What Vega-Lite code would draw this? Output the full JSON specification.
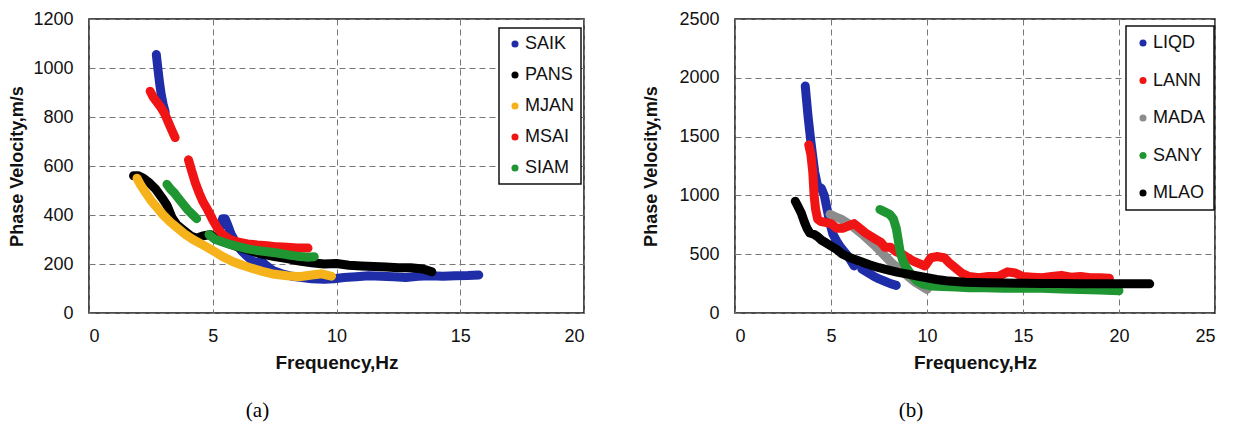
{
  "$schema": "https://vega.github.io/schema/vega-lite/v6.json",
  "padding": {"left": 8, "top": 9, "right": 0, "bottom": 0},
  "background": "white",
  "datasets": {
    "a": [
      {"s":"SAIK","g":1,"f":2.72,"v":1055},{"s":"SAIK","g":1,"f":2.78,"v":1000},{"s":"SAIK","g":1,"f":2.85,"v":940},{"s":"SAIK","g":1,"f":2.92,"v":890},{"s":"SAIK","g":1,"f":3.0,"v":850},{"s":"SAIK","g":1,"f":3.08,"v":820},
      {"s":"SAIK","g":2,"f":5.3,"v":350},{"s":"SAIK","g":2,"f":5.4,"v":385},{"s":"SAIK","g":2,"f":5.5,"v":385},{"s":"SAIK","g":2,"f":5.6,"v":360},{"s":"SAIK","g":2,"f":5.75,"v":320},{"s":"SAIK","g":2,"f":5.95,"v":285},{"s":"SAIK","g":2,"f":6.15,"v":255},{"s":"SAIK","g":2,"f":6.4,"v":230},{"s":"SAIK","g":2,"f":6.7,"v":205},{"s":"SAIK","g":2,"f":6.95,"v":212},{"s":"SAIK","g":2,"f":7.15,"v":195},{"s":"SAIK","g":2,"f":7.45,"v":172},{"s":"SAIK","g":2,"f":7.8,"v":160},{"s":"SAIK","g":2,"f":8.2,"v":150},{"s":"SAIK","g":2,"f":8.6,"v":145},{"s":"SAIK","g":2,"f":9.0,"v":140},{"s":"SAIK","g":2,"f":9.5,"v":138},{"s":"SAIK","g":2,"f":9.9,"v":140},{"s":"SAIK","g":2,"f":10.3,"v":145},{"s":"SAIK","g":2,"f":10.8,"v":148},{"s":"SAIK","g":2,"f":11.3,"v":152},{"s":"SAIK","g":2,"f":11.8,"v":150},{"s":"SAIK","g":2,"f":12.3,"v":148},{"s":"SAIK","g":2,"f":12.8,"v":145},{"s":"SAIK","g":2,"f":13.3,"v":150},{"s":"SAIK","g":2,"f":13.8,"v":152},{"s":"SAIK","g":2,"f":14.3,"v":150},{"s":"SAIK","g":2,"f":14.8,"v":152},{"s":"SAIK","g":2,"f":15.3,"v":153},{"s":"SAIK","g":2,"f":15.75,"v":155},
      {"s":"PANS","g":1,"f":1.8,"v":560},{"s":"PANS","g":1,"f":2.0,"v":560},{"s":"PANS","g":1,"f":2.2,"v":550},{"s":"PANS","g":1,"f":2.45,"v":530},{"s":"PANS","g":1,"f":2.7,"v":505},{"s":"PANS","g":1,"f":2.95,"v":470},{"s":"PANS","g":1,"f":3.15,"v":440},{"s":"PANS","g":1,"f":3.35,"v":390},{"s":"PANS","g":1,"f":3.55,"v":360},{"s":"PANS","g":1,"f":3.8,"v":340},{"s":"PANS","g":1,"f":4.1,"v":315},{"s":"PANS","g":1,"f":4.35,"v":305},{"s":"PANS","g":1,"f":4.6,"v":315},{"s":"PANS","g":1,"f":4.9,"v":320},{"s":"PANS","g":1,"f":5.2,"v":300},{"s":"PANS","g":1,"f":5.6,"v":285},{"s":"PANS","g":1,"f":6.0,"v":270},{"s":"PANS","g":1,"f":6.5,"v":255},{"s":"PANS","g":1,"f":7.0,"v":240},{"s":"PANS","g":1,"f":7.5,"v":230},{"s":"PANS","g":1,"f":8.0,"v":222},{"s":"PANS","g":1,"f":8.5,"v":212},{"s":"PANS","g":1,"f":9.0,"v":205},{"s":"PANS","g":1,"f":9.5,"v":200},{"s":"PANS","g":1,"f":10.0,"v":202},{"s":"PANS","g":1,"f":10.5,"v":195},{"s":"PANS","g":1,"f":11.0,"v":192},{"s":"PANS","g":1,"f":11.5,"v":190},{"s":"PANS","g":1,"f":12.0,"v":188},{"s":"PANS","g":1,"f":12.5,"v":185},{"s":"PANS","g":1,"f":13.0,"v":185},{"s":"PANS","g":1,"f":13.5,"v":180},{"s":"PANS","g":1,"f":13.85,"v":168},
      {"s":"MSAI","g":1,"f":2.47,"v":905},{"s":"MSAI","g":1,"f":2.6,"v":880},{"s":"MSAI","g":1,"f":2.75,"v":860},{"s":"MSAI","g":1,"f":2.9,"v":840},{"s":"MSAI","g":1,"f":3.05,"v":815},{"s":"MSAI","g":1,"f":3.2,"v":780},{"s":"MSAI","g":1,"f":3.35,"v":745},{"s":"MSAI","g":1,"f":3.48,"v":716},
      {"s":"MSAI","g":2,"f":4.02,"v":625},{"s":"MSAI","g":2,"f":4.15,"v":580},{"s":"MSAI","g":2,"f":4.3,"v":530},{"s":"MSAI","g":2,"f":4.45,"v":490},{"s":"MSAI","g":2,"f":4.6,"v":455},{"s":"MSAI","g":2,"f":4.8,"v":420},{"s":"MSAI","g":2,"f":5.0,"v":380},{"s":"MSAI","g":2,"f":5.2,"v":345},{"s":"MSAI","g":2,"f":5.4,"v":320},{"s":"MSAI","g":2,"f":5.7,"v":300},{"s":"MSAI","g":2,"f":6.0,"v":290},{"s":"MSAI","g":2,"f":6.4,"v":282},{"s":"MSAI","g":2,"f":6.8,"v":278},{"s":"MSAI","g":2,"f":7.2,"v":275},{"s":"MSAI","g":2,"f":7.6,"v":270},{"s":"MSAI","g":2,"f":8.0,"v":268},{"s":"MSAI","g":2,"f":8.4,"v":265},{"s":"MSAI","g":2,"f":8.85,"v":265},
      {"s":"SIAM","g":1,"f":3.15,"v":525},{"s":"SIAM","g":1,"f":3.3,"v":505},{"s":"SIAM","g":1,"f":3.45,"v":490},{"s":"SIAM","g":1,"f":3.6,"v":470},{"s":"SIAM","g":1,"f":3.8,"v":445},{"s":"SIAM","g":1,"f":4.0,"v":420},{"s":"SIAM","g":1,"f":4.2,"v":400},{"s":"SIAM","g":1,"f":4.35,"v":385},
      {"s":"SIAM","g":2,"f":4.85,"v":320},{"s":"SIAM","g":2,"f":5.1,"v":300},{"s":"SIAM","g":2,"f":5.4,"v":290},{"s":"SIAM","g":2,"f":5.7,"v":280},{"s":"SIAM","g":2,"f":6.0,"v":272},{"s":"SIAM","g":2,"f":6.4,"v":262},{"s":"SIAM","g":2,"f":6.8,"v":255},{"s":"SIAM","g":2,"f":7.2,"v":250},{"s":"SIAM","g":2,"f":7.6,"v":245},{"s":"SIAM","g":2,"f":8.0,"v":238},{"s":"SIAM","g":2,"f":8.4,"v":232},{"s":"SIAM","g":2,"f":8.8,"v":228},{"s":"SIAM","g":2,"f":9.1,"v":230},
      {"s":"MJAN","g":1,"f":1.94,"v":550},{"s":"MJAN","g":1,"f":2.1,"v":520},{"s":"MJAN","g":1,"f":2.3,"v":490},{"s":"MJAN","g":1,"f":2.5,"v":460},{"s":"MJAN","g":1,"f":2.75,"v":430},{"s":"MJAN","g":1,"f":3.0,"v":400},{"s":"MJAN","g":1,"f":3.3,"v":370},{"s":"MJAN","g":1,"f":3.6,"v":345},{"s":"MJAN","g":1,"f":3.9,"v":320},{"s":"MJAN","g":1,"f":4.2,"v":300},{"s":"MJAN","g":1,"f":4.6,"v":278},{"s":"MJAN","g":1,"f":5.0,"v":255},{"s":"MJAN","g":1,"f":5.4,"v":230},{"s":"MJAN","g":1,"f":5.8,"v":210},{"s":"MJAN","g":1,"f":6.2,"v":195},{"s":"MJAN","g":1,"f":6.6,"v":182},{"s":"MJAN","g":1,"f":7.0,"v":170},{"s":"MJAN","g":1,"f":7.5,"v":158},{"s":"MJAN","g":1,"f":8.0,"v":152},{"s":"MJAN","g":1,"f":8.5,"v":148},{"s":"MJAN","g":1,"f":9.0,"v":155},{"s":"MJAN","g":1,"f":9.4,"v":160},{"s":"MJAN","g":1,"f":9.8,"v":150}
    ],
    "b": [
      {"s":"LIQD","g":1,"f":3.66,"v":1930},{"s":"LIQD","g":1,"f":3.72,"v":1820},{"s":"LIQD","g":1,"f":3.8,"v":1680},{"s":"LIQD","g":1,"f":3.88,"v":1560},{"s":"LIQD","g":1,"f":3.95,"v":1460},{"s":"LIQD","g":1,"f":4.05,"v":1330},{"s":"LIQD","g":1,"f":4.15,"v":1200},{"s":"LIQD","g":1,"f":4.3,"v":1080},{"s":"LIQD","g":1,"f":4.5,"v":1060},{"s":"LIQD","g":1,"f":4.65,"v":1000},{"s":"LIQD","g":1,"f":4.8,"v":880},{"s":"LIQD","g":1,"f":4.95,"v":760},{"s":"LIQD","g":1,"f":5.1,"v":670},{"s":"LIQD","g":1,"f":5.3,"v":610},{"s":"LIQD","g":1,"f":5.5,"v":560},{"s":"LIQD","g":1,"f":5.7,"v":520},{"s":"LIQD","g":1,"f":5.9,"v":480},{"s":"LIQD","g":1,"f":6.05,"v":440},{"s":"LIQD","g":1,"f":6.2,"v":400},
      {"s":"LIQD","g":2,"f":6.6,"v":375},{"s":"LIQD","g":2,"f":6.9,"v":345},{"s":"LIQD","g":2,"f":7.2,"v":315},{"s":"LIQD","g":2,"f":7.5,"v":290},{"s":"LIQD","g":2,"f":7.8,"v":270},{"s":"LIQD","g":2,"f":8.1,"v":250},{"s":"LIQD","g":2,"f":8.4,"v":235},
      {"s":"MADA","g":1,"f":4.95,"v":840},{"s":"MADA","g":1,"f":5.2,"v":820},{"s":"MADA","g":1,"f":5.5,"v":800},{"s":"MADA","g":1,"f":5.8,"v":770},{"s":"MADA","g":1,"f":6.1,"v":740},{"s":"MADA","g":1,"f":6.4,"v":700},{"s":"MADA","g":1,"f":6.7,"v":660},{"s":"MADA","g":1,"f":7.0,"v":615},{"s":"MADA","g":1,"f":7.3,"v":570},{"s":"MADA","g":1,"f":7.6,"v":520},{"s":"MADA","g":1,"f":7.9,"v":470},{"s":"MADA","g":1,"f":8.2,"v":420},{"s":"MADA","g":1,"f":8.5,"v":380},{"s":"MADA","g":1,"f":8.8,"v":340},{"s":"MADA","g":1,"f":9.1,"v":300},{"s":"MADA","g":1,"f":9.4,"v":260},{"s":"MADA","g":1,"f":9.7,"v":230},{"s":"MADA","g":1,"f":10.0,"v":200},
      {"s":"LANN","g":1,"f":3.84,"v":1430},{"s":"LANN","g":1,"f":3.95,"v":1350},{"s":"LANN","g":1,"f":4.05,"v":1200},{"s":"LANN","g":1,"f":4.12,"v":1000},{"s":"LANN","g":1,"f":4.2,"v":880},{"s":"LANN","g":1,"f":4.3,"v":800},{"s":"LANN","g":1,"f":4.45,"v":780},{"s":"LANN","g":1,"f":4.7,"v":770},{"s":"LANN","g":1,"f":5.0,"v":760},{"s":"LANN","g":1,"f":5.3,"v":720},{"s":"LANN","g":1,"f":5.6,"v":720},{"s":"LANN","g":1,"f":5.9,"v":740},{"s":"LANN","g":1,"f":6.2,"v":760},{"s":"LANN","g":1,"f":6.5,"v":720},{"s":"LANN","g":1,"f":6.8,"v":680},{"s":"LANN","g":1,"f":7.1,"v":650},{"s":"LANN","g":1,"f":7.4,"v":620},{"s":"LANN","g":1,"f":7.6,"v":600},{"s":"LANN","g":1,"f":7.8,"v":560},{"s":"LANN","g":1,"f":8.1,"v":560},{"s":"LANN","g":1,"f":8.4,"v":520},{"s":"LANN","g":1,"f":8.7,"v":500},{"s":"LANN","g":1,"f":9.0,"v":470},{"s":"LANN","g":1,"f":9.3,"v":440},{"s":"LANN","g":1,"f":9.6,"v":420},{"s":"LANN","g":1,"f":9.9,"v":400},{"s":"LANN","g":1,"f":10.2,"v":470},{"s":"LANN","g":1,"f":10.5,"v":480},{"s":"LANN","g":1,"f":10.9,"v":470},{"s":"LANN","g":1,"f":11.2,"v":420},{"s":"LANN","g":1,"f":11.5,"v":380},{"s":"LANN","g":1,"f":11.8,"v":340},{"s":"LANN","g":1,"f":12.2,"v":310},{"s":"LANN","g":1,"f":12.7,"v":300},{"s":"LANN","g":1,"f":13.2,"v":310},{"s":"LANN","g":1,"f":13.7,"v":310},{"s":"LANN","g":1,"f":14.2,"v":350},{"s":"LANN","g":1,"f":14.6,"v":340},{"s":"LANN","g":1,"f":15.0,"v":310},{"s":"LANN","g":1,"f":15.5,"v":305},{"s":"LANN","g":1,"f":16.0,"v":300},{"s":"LANN","g":1,"f":16.5,"v":310},{"s":"LANN","g":1,"f":17.0,"v":320},{"s":"LANN","g":1,"f":17.5,"v":305},{"s":"LANN","g":1,"f":18.0,"v":310},{"s":"LANN","g":1,"f":18.5,"v":300},{"s":"LANN","g":1,"f":19.0,"v":300},{"s":"LANN","g":1,"f":19.5,"v":295},
      {"s":"SANY","g":1,"f":7.55,"v":880},{"s":"SANY","g":1,"f":7.8,"v":860},{"s":"SANY","g":1,"f":8.05,"v":840},{"s":"SANY","g":1,"f":8.25,"v":800},{"s":"SANY","g":1,"f":8.4,"v":720},{"s":"SANY","g":1,"f":8.5,"v":620},{"s":"SANY","g":1,"f":8.6,"v":520},{"s":"SANY","g":1,"f":8.75,"v":440},{"s":"SANY","g":1,"f":8.95,"v":380},{"s":"SANY","g":1,"f":9.2,"v":320},{"s":"SANY","g":1,"f":9.5,"v":270},{"s":"SANY","g":1,"f":9.8,"v":245},{"s":"SANY","g":1,"f":10.2,"v":230},{"s":"SANY","g":1,"f":10.8,"v":225},{"s":"SANY","g":1,"f":11.5,"v":220},{"s":"SANY","g":1,"f":12.2,"v":215},{"s":"SANY","g":1,"f":13.0,"v":215},{"s":"SANY","g":1,"f":14.0,"v":210},{"s":"SANY","g":1,"f":15.0,"v":210},{"s":"SANY","g":1,"f":16.0,"v":210},{"s":"SANY","g":1,"f":17.0,"v":205},{"s":"SANY","g":1,"f":18.0,"v":200},{"s":"SANY","g":1,"f":19.0,"v":195},{"s":"SANY","g":1,"f":20.0,"v":190},
      {"s":"MLAO","g":1,"f":3.14,"v":950},{"s":"MLAO","g":1,"f":3.3,"v":900},{"s":"MLAO","g":1,"f":3.45,"v":850},{"s":"MLAO","g":1,"f":3.6,"v":780},{"s":"MLAO","g":1,"f":3.75,"v":720},{"s":"MLAO","g":1,"f":3.9,"v":680},{"s":"MLAO","g":1,"f":4.1,"v":670},{"s":"MLAO","g":1,"f":4.3,"v":650},{"s":"MLAO","g":1,"f":4.5,"v":620},{"s":"MLAO","g":1,"f":4.7,"v":600},{"s":"MLAO","g":1,"f":5.0,"v":570},{"s":"MLAO","g":1,"f":5.3,"v":540},{"s":"MLAO","g":1,"f":5.6,"v":500},{"s":"MLAO","g":1,"f":6.0,"v":470},{"s":"MLAO","g":1,"f":6.5,"v":440},{"s":"MLAO","g":1,"f":7.0,"v":410},{"s":"MLAO","g":1,"f":7.5,"v":385},{"s":"MLAO","g":1,"f":8.0,"v":365},{"s":"MLAO","g":1,"f":8.5,"v":345},{"s":"MLAO","g":1,"f":9.0,"v":330},{"s":"MLAO","g":1,"f":9.5,"v":315},{"s":"MLAO","g":1,"f":10.0,"v":300},{"s":"MLAO","g":1,"f":10.5,"v":285},{"s":"MLAO","g":1,"f":11.0,"v":275},{"s":"MLAO","g":1,"f":11.5,"v":268},{"s":"MLAO","g":1,"f":12.0,"v":262},{"s":"MLAO","g":1,"f":13.0,"v":258},{"s":"MLAO","g":1,"f":14.0,"v":255},{"s":"MLAO","g":1,"f":15.0,"v":252},{"s":"MLAO","g":1,"f":16.0,"v":250},{"s":"MLAO","g":1,"f":17.0,"v":250},{"s":"MLAO","g":1,"f":18.0,"v":248},{"s":"MLAO","g":1,"f":19.0,"v":248},{"s":"MLAO","g":1,"f":20.0,"v":248},{"s":"MLAO","g":1,"f":21.0,"v":248},{"s":"MLAO","g":1,"f":21.6,"v":248}
    ]
  },
  "spacing": 151,
  "bounds": "flush",
  "resolve": {"scale": {"color": "independent", "x": "independent", "y": "independent"}, "legend": {"color": "independent"}},
  "hconcat": [
    {
      "width": 495, "height": 294,
      "title": {"text": "(a)", "orient": "bottom", "anchor": "middle", "frame": "group", "dx": -79, "offset": 28, "font": "Liberation Serif", "fontSize": 21, "fontWeight": "normal", "color": "black"},
      "data": {"name": "a"},
      "encoding": {
        "x": {"field": "f", "type": "quantitative", "scale": {"domain": [0, 20], "nice": false, "zero": false}, "axis": {"values": [0, 5, 10, 15, 20], "format": "d", "title": "Frequency,Hz"}},
        "y": {"field": "v", "type": "quantitative", "scale": {"domain": [0, 1200], "nice": false}, "axis": {"values": [0, 200, 400, 600, 800, 1000, 1200], "format": "d", "title": "Phase Velocity,m/s", "titlePadding": 6}}
      },
      "resolve": {"legend": {"color": "independent"}},
      "layer": [
        {
          "mark": {"type": "line", "strokeWidth": 9, "strokeCap": "round", "strokeJoin": "round"},
          "encoding": {
            "detail": {"field": "g", "type": "nominal"},
            "color": {"field": "s", "type": "nominal", "scale": {"domain": ["SAIK", "PANS", "MJAN", "MSAI", "SIAM"], "range": ["#1f2ea8", "#000000", "#f5b21a", "#f01414", "#1f9632"]}, "legend": null}
          }
        },
        {
          "mark": {"type": "point", "filled": true, "size": 10, "opacity": 0},
          "encoding": {
            "color": {"field": "s", "type": "nominal", "scale": {"domain": ["SAIK", "PANS", "MJAN", "MSAI", "SIAM"], "range": ["#1f2ea8", "#000000", "#f5b21a", "#f01414", "#1f9632"]}, "legend": {"legendX": 410, "legendY": 9, "rowPadding": 13, "padding": 7}}
          }
        }
      ]
    },
    {
      "width": 480, "height": 294,
      "title": {"text": "(b)", "orient": "bottom", "anchor": "middle", "frame": "group", "dx": -64, "offset": 28, "font": "Liberation Serif", "fontSize": 21, "fontWeight": "normal", "color": "black"},
      "data": {"name": "b"},
      "encoding": {
        "x": {"field": "f", "type": "quantitative", "scale": {"domain": [0, 25], "nice": false, "zero": false}, "axis": {"values": [0, 5, 10, 15, 20, 25], "format": "d", "title": "Frequency,Hz"}},
        "y": {"field": "v", "type": "quantitative", "scale": {"domain": [0, 2500], "nice": false}, "axis": {"values": [0, 500, 1000, 1500, 2000, 2500], "format": "d", "title": "Phase Velocity,m/s", "titlePadding": 18}}
      },
      "resolve": {"legend": {"color": "independent"}},
      "layer": [
        {
          "mark": {"type": "line", "strokeWidth": 9, "strokeCap": "round", "strokeJoin": "round"},
          "encoding": {
            "detail": {"field": "g", "type": "nominal"},
            "color": {"field": "s", "type": "nominal", "scale": {"domain": ["LIQD", "LANN", "MADA", "SANY", "MLAO"], "range": ["#1f2ea8", "#f01414", "#8c8c8c", "#1f9632", "#000000"]}, "legend": null}
          }
        },
        {
          "mark": {"type": "point", "filled": true, "size": 10, "opacity": 0},
          "encoding": {
            "color": {"field": "s", "type": "nominal", "scale": {"domain": ["LIQD", "LANN", "MADA", "SANY", "MLAO"], "range": ["#1f2ea8", "#f01414", "#8c8c8c", "#1f9632", "#000000"]}, "legend": {"legendX": 391, "legendY": 7, "rowPadding": 19.5, "padding": 8}}
          }
        }
      ]
    }
  ],
  "config": {
    "view": {"stroke": "#111111", "strokeWidth": 1.5},
    "axis": {
      "grid": true, "gridColor": "#777777", "gridDash": [6, 4], "gridWidth": 1, "gridOpacity": 1,
      "ticks": false, "domain": false,
      "labelFont": "Liberation Sans", "labelFontSize": 18, "labelColor": "#111111",
      "titleFont": "Liberation Sans", "titleFontSize": 18, "titleFontWeight": "bold", "titleColor": "#111111"
    },
    "axisX": {"labelPadding": 14, "titlePadding": 8, "titleFontSize": 19},
    "axisY": {"labelPadding": 16},
    "legend": {
      "orient": "none", "title": null, "strokeColor": "#111111", "strokeWidth": 1.5, "fillColor": "white",
      "labelFont": "Liberation Sans", "labelFontSize": 18, "labelColor": "#111111",
      "symbolType": "circle", "symbolSize": 50, "symbolOpacity": 1, "symbolStrokeWidth": 0, "labelOffset": 1
    }
  }
}
